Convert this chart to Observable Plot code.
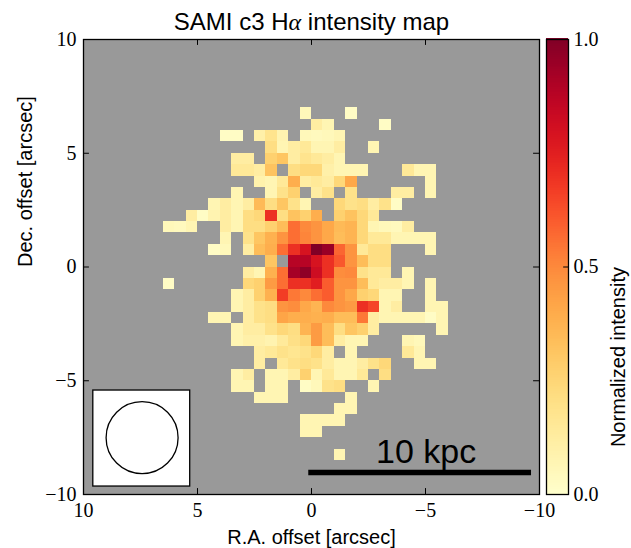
<!DOCTYPE html>
<html><head><meta charset="utf-8">
<script src="https://cdn.jsdelivr.net/npm/d3@7"></script>
<script src="https://cdn.jsdelivr.net/npm/@observablehq/plot@0.6"></script>
<style>
body{margin:0;background:#fff;}
#wrap{position:relative;width:631px;height:548px;}
#wrap svg{position:absolute;left:0;top:0;max-width:none;}
</style></head><body><div id="wrap"></div>
<script>
const _ = null;
// spaxel centres (arcsec), 0.5" spaxels
const raCenters = [6.25,5.75,5.25,4.75,4.25,3.75,3.25,2.75,2.25,1.75,1.25,0.75,0.25,-0.25,-0.75,-1.25,-1.75,-2.25,-2.75,-3.25,-3.75,-4.25,-4.75,-5.25,-5.75];
const decCenters = [6.75,6.25,5.75,5.25,4.75,4.25,3.75,3.25,2.75,2.25,1.75,1.25,0.75,0.25,-0.25,-0.75,-1.25,-1.75,-2.25,-2.75,-3.25,-3.75,-4.25,-4.75,-5.25,-5.75,-6.25,-6.75,-7.25,-7.75,-8.25];
// normalized H-alpha intensity, one row per declination (null = masked)
const intensityRows = [
[_,_,_,_,_,_,_,_,_,_,_,_,.05,_,_,_,.02,_,_,_,_,_,_,_,_],
[_,_,_,_,_,_,_,_,_,_,_,_,_,.12,.07,_,_,_,_,.02,_,_,_,_,_],
[_,_,_,_,_,.02,.02,_,.10,.18,.08,_,.05,.04,.05,.07,_,_,_,_,_,_,_,_,_],
[_,_,_,_,_,_,_,_,_,.21,.07,.12,.15,.07,.07,.12,_,_,.07,_,_,_,_,_,_],
[_,_,_,_,_,_,.12,.12,_,.27,.31,.12,.18,.15,.12,.07,_,_,_,_,_,_,_,_,_],
[_,_,_,_,_,_,.15,.15,.12,.32,_,.21,.24,.24,.10,.07,.07,.07,_,_,_,.15,.07,.07,_],
[_,_,_,_,_,_,_,_,.09,.07,.15,.39,.12,.15,.12,.24,.41,_,_,_,_,_,_,.07,_],
[_,_,_,_,_,_,.07,_,_,.07,.19,.27,_,.12,.19,_,.19,_,_,_,.12,.12,_,.07,_],
[_,_,_,_,.07,.12,.07,.12,.35,.21,.31,.19,.07,_,_,.24,.19,.21,.12,.19,.02,_,_,_,_],
[_,_,.12,.02,.08,.12,.07,.21,.24,.70,.21,.32,.27,.39,_,.27,.32,.24,.15,_,_,_,_,_,_],
[.05,.04,.07,_,_,.12,.07,.21,.21,.27,.34,.56,.50,.47,.41,.35,.37,.24,.07,.05,.04,.12,_,_,_],
[_,_,_,_,_,.07,_,.19,.31,.38,.47,.56,.51,.47,.41,.34,.37,.24,.15,.15,.07,.07,.07,.07,_],
[_,_,_,_,.02,.05,_,.12,.34,.39,.56,.70,.79,1.0,.95,.58,.47,.15,.21,.21,_,_,_,.07,_],
[_,_,_,_,_,_,_,_,_,.31,_,.88,.88,.79,.70,.61,.47,.34,.21,.21,_,_,_,_,_],
[_,_,_,_,_,_,_,.12,.07,.38,.56,.92,.97,.82,.70,.49,.50,.19,.15,.15,_,.07,_,_,_],
[.02,_,_,_,_,_,_,.24,.27,.45,.56,.70,.70,.75,.60,.47,.47,.34,.15,.12,.12,.07,_,.07,_],
[_,_,_,_,_,_,.07,.12,.27,.38,.67,.54,.50,.56,.60,.47,.41,.27,.24,.07,.07,_,_,.07,_],
[_,_,_,_,_,_,.07,.12,.19,.21,.47,.49,.41,.37,.50,.47,.45,.70,.65,.07,.12,_,_,.07,.07],
[_,_,_,_,.07,.07,_,.12,.19,.21,.42,.39,.39,.38,.39,.34,.34,.54,.12,.07,.07,.07,.07,.02,.07],
[_,_,_,_,_,_,.07,.12,.12,.19,.24,.21,.37,.45,.34,.21,.31,.27,.12,_,_,_,_,_,.07],
[_,_,_,_,_,_,.07,.10,.10,.08,.14,.20,.24,.45,.34,.12,.07,.07,_,_,_,.07,.05,_,_],
[_,_,_,_,_,_,_,_,.12,.15,.19,.17,.19,.24,.12,_,.07,_,_,_,_,.15,.07,_,_],
[_,_,_,_,_,_,_,_,.12,_,.15,.19,.21,.19,.12,.07,.07,.12,.19,.24,_,_,.07,.07,_],
[_,_,_,_,_,_,.07,.12,_,.07,.07,.12,.27,.07,.15,.07,.07,.15,_,.21,_,_,_,_,_],
[_,_,_,_,_,_,.07,.07,_,.07,.07,_,.02,.05,.19,.21,_,_,.07,_,_,_,_,_,_],
[_,_,_,_,_,_,_,_,.07,.07,.07,_,_,_,_,_,.07,_,_,_,_,_,_,_,_],
[_,_,_,_,_,_,_,_,_,_,_,_,_,_,_,.07,.07,_,_,_,_,_,_,_,_],
[_,_,_,_,_,_,_,_,_,_,_,_,.07,.07,.07,.07,_,_,_,_,_,_,_,_,_],
[_,_,_,_,_,_,_,_,_,_,_,_,.07,.07,_,_,_,_,_,_,_,_,_,_,_],
[_,_,_,_,_,_,_,_,_,_,_,_,_,_,_,_,_,_,_,_,_,_,_,_,_],
[_,_,_,_,_,_,_,_,_,_,_,_,_,_,_,.07,_,_,_,_,_,_,_,_,_]
];
const spaxelHalf = 0.25;
const axisTicks = [10, 5, 0, -5, -10];
const innerTicks = [5, 0, -5];
const colorTicks = [0, 0.5, 1];
// PSF inset (arcsec)
const beamBox = {ra1: 9.57, ra2: 5.32, dec1: -9.65, dec2: -5.43, ra: 7.43, dec: -7.5};
// 10 kpc scale bar (arcsec)
const scaleBar = {ra1: 0.12, ra2: -9.65, dec: -9.03, labelRa: -5.03, labelDec: -8.62, label: "10 kpc"};
const titleText = "SAMI c3 Hα intensity map";
const xLabel = "R.A. offset [arcsec]";
const yLabel = "Dec. offset [arcsec]";
const cLabel = "Normalized intensity";

const cells = [];
intensityRows.forEach((row, i) => row.forEach((v, j) => {
  if (v !== null) cells.push({ra: raCenters[j], dec: decCenters[i], v});
}));

const colorScale = {type: "linear", scheme: "YlOrRd", domain: [0, 1]};
const serif = "Liberation Serif, DejaVu Serif, serif";
const sans = "Liberation Sans, Arial, sans-serif";

const main = Plot.plot({
  width: 631, height: 548,
  marginLeft: 83, marginRight: 92, marginTop: 39, marginBottom: 54,
  x: {domain: [10, -10], axis: null},
  y: {domain: [-10, 10], axis: null},
  color: colorScale,
  style: {background: "transparent", overflow: "visible"},
  marks: [
    Plot.frame({fill: "#999999"}),
    Plot.rect(cells, {x1: d => d.ra + spaxelHalf, x2: d => d.ra - spaxelHalf, y1: d => d.dec - spaxelHalf, y2: d => d.dec + spaxelHalf, fill: "v", shapeRendering: "crispEdges"}),
    Plot.rect([beamBox], {x1: "ra1", x2: "ra2", y1: "dec1", y2: "dec2", fill: "white", stroke: "black", strokeWidth: 1.3}),
    Plot.dot([beamBox], {x: "ra", y: "dec", r: 36, stroke: "black", strokeWidth: 1.3, fill: "none"}),
    Plot.ruleY([scaleBar], {y: "dec", x1: "ra1", x2: "ra2", stroke: "black", strokeWidth: 5.5}),
    Plot.text([scaleBar], {x: "labelRa", y: "labelDec", text: "label", fontSize: 34, fontFamily: sans, lineAnchor: "bottom", fill: "black"}),
    Plot.ruleX(innerTicks, {x: d => d, y1: -10, y2: -9.74, stroke: "black"}),
    Plot.ruleX(innerTicks, {x: d => d, y1: 10, y2: 9.74, stroke: "black"}),
    Plot.ruleY(innerTicks, {y: d => d, x1: 10, x2: 9.74, stroke: "black"}),
    Plot.ruleY(innerTicks, {y: d => d, x1: -10, x2: -9.74, stroke: "black"}),
    Plot.axisX(axisTicks, {anchor: "bottom", tickSize: 0, tickPadding: 8, fontSize: 20, fontFamily: serif, label: null, fill: "black"}),
    Plot.axisY(axisTicks, {anchor: "left", tickSize: 0, tickPadding: 7, fontSize: 20, fontFamily: serif, label: null, fill: "black"}),
    Plot.frame({stroke: "black", strokeWidth: 1.3}),
    Plot.text([xLabel], {frameAnchor: "bottom", dy: 49, lineAnchor: "bottom", fontSize: 20, fontFamily: sans, fill: "black"}),
    Plot.text([yLabel], {frameAnchor: "left", dx: -52, rotate: -90, lineAnchor: "bottom", fontSize: 20, fontFamily: sans, fill: "black"}),
    Plot.text([titleText], {frameAnchor: "top", dy: -10, lineAnchor: "bottom", fontSize: 24, fontFamily: sans, fill: "black"})
  ]
});

const ramp = d3.range(0, 1, 1 / 256);
const cbar = Plot.plot({
  width: 631, height: 548,
  marginLeft: 546, marginRight: 63, marginTop: 39, marginBottom: 54,
  x: {domain: [0, 1], axis: null},
  y: {domain: [0, 1], axis: null},
  color: colorScale,
  style: {background: "transparent", overflow: "visible"},
  marks: [
    Plot.rect(ramp, {x1: 0, x2: 1, y1: d => d, y2: d => d + 1 / 256 + 0.002, fill: d => d + 0.5 / 256, shapeRendering: "crispEdges"}),
    Plot.ruleY([0.5], {x1: 0.78, x2: 1, stroke: "black"}),
    Plot.frame({stroke: "black", strokeWidth: 1.3}),
    Plot.axisY(colorTicks, {anchor: "right", tickSize: 0, tickPadding: 5, tickFormat: d3.format(".1f"), fontSize: 20, fontFamily: serif, label: null, fill: "black"}),
    Plot.text([cLabel], {frameAnchor: "right", dx: 56, rotate: -90, lineAnchor: "bottom", fontSize: 20, fontFamily: sans, fill: "black"})
  ]
});

const wrap = document.getElementById("wrap");
wrap.appendChild(main);
wrap.appendChild(cbar);

// render the alpha of the title in math italic
d3.select(main).selectAll("text").filter(function() { return this.textContent === titleText; }).each(function() {
  const t = d3.select(this);
  const parts = titleText.split("α");
  t.text(null);
  t.append("tspan").text(parts[0]);
  t.append("tspan").attr("font-family", serif).attr("font-style", "italic").text("α");
  t.append("tspan").text(parts[1]);
});
</script></body></html>
